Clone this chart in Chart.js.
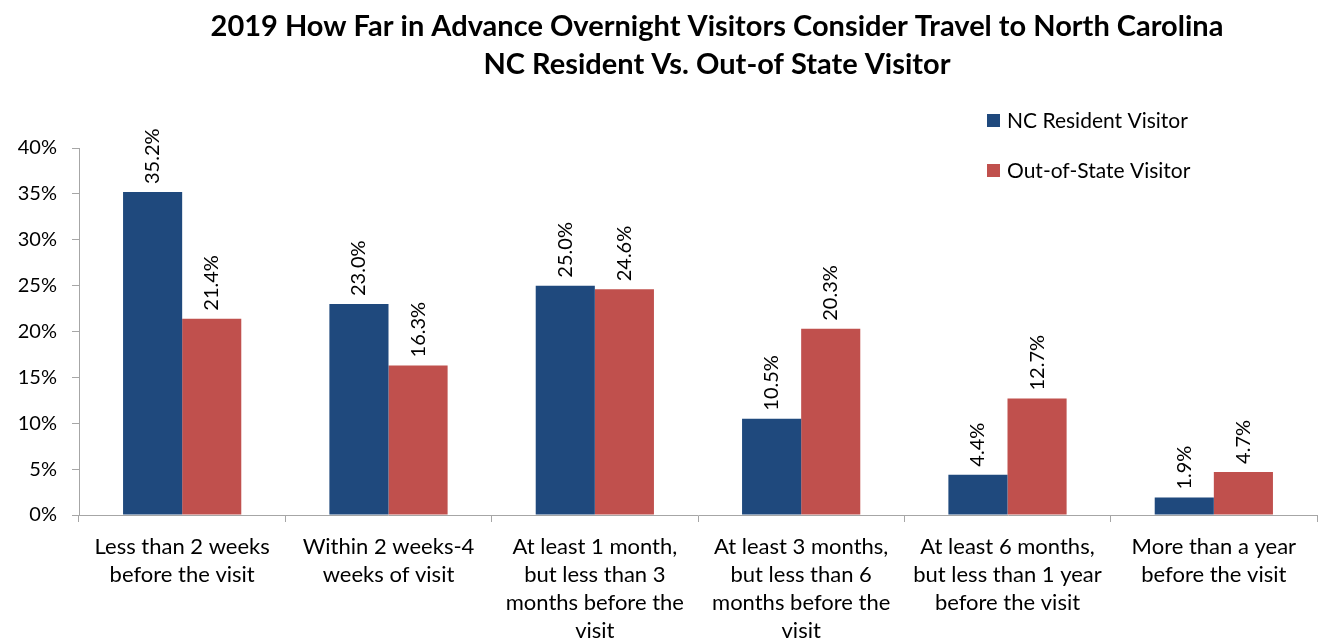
<!DOCTYPE html>
<html>
<head>
<meta charset="utf-8">
<script src="https://cdn.jsdelivr.net/npm/chart.js@4"></script>
<style>
html,body{margin:0;padding:0;background:#fff;}
#wrap{width:1325px;height:643px;position:relative;}
</style>
</head>
<body>
<div id="wrap"><canvas id="c" width="1325" height="643"></canvas></div>
<script>
const TITLE = ['2019 How Far in Advance Overnight Visitors Consider Travel to North Carolina', 'NC Resident Vs. Out-of State Visitor'];
const categories = [
  ['Less than 2 weeks', 'before the visit'],
  ['Within 2 weeks-4', 'weeks of visit'],
  ['At least 1 month,', 'but less than 3', 'months before the', 'visit'],
  ['At least 3 months,', 'but less than 6', 'months before the', 'visit'],
  ['At least 6 months,', 'but less than 1 year', 'before the visit'],
  ['More than a year', 'before the visit']
];
const seriesNames = ['NC Resident Visitor', 'Out-of-State Visitor'];
const ncResident = [35.2, 23.0, 25.0, 10.5, 4.4, 1.9];
const outOfState = [21.4, 16.3, 24.6, 20.3, 12.7, 4.7];
const yTicks = [0, 5, 10, 15, 20, 25, 30, 35, 40];
const colors = ['#1F497D', '#C0504D'];

const FONT = 'Lato, "Open Sans", sans-serif';

const titlePlugin = {
  id: 'customTitle',
  afterDraw(chart) {
    const ctx = chart.ctx;
    ctx.save();
    ctx.fillStyle = '#000';
    ctx.textAlign = 'center';
    ctx.textBaseline = 'middle';
    ctx.font = 'bold 29px ' + FONT;
    ctx.fillText(TITLE[0], 717, 27);
    ctx.fillText(TITLE[1], 717, 65);
    ctx.restore();
  }
};

const legendPlugin = {
  id: 'customLegend',
  afterDraw(chart) {
    const ctx = chart.ctx;
    ctx.save();
    ctx.font = '21px ' + FONT;
    ctx.textBaseline = 'middle';
    ctx.textAlign = 'left';
    chart.data.datasets.forEach((ds, i) => {
      const y = 120 + i * 50;
      ctx.fillStyle = ds.backgroundColor;
      ctx.fillRect(987, y - 6, 13, 13);
      ctx.fillStyle = '#000';
      ctx.fillText(ds.label, 1007, y + 1);
    });
    ctx.restore();
  }
};

const labelPlugin = {
  id: 'barLabels',
  afterDatasetsDraw(chart) {
    const ctx = chart.ctx;
    ctx.save();
    ctx.font = '20px ' + FONT;
    ctx.fillStyle = '#000';
    ctx.textAlign = 'left';
    ctx.textBaseline = 'middle';
    chart.data.datasets.forEach((ds, di) => {
      const meta = chart.getDatasetMeta(di);
      meta.data.forEach((bar, i) => {
        ctx.save();
        ctx.translate(bar.x, bar.y - 8);
        ctx.rotate(-Math.PI / 2);
        ctx.fillText(ds.data[i].toFixed(1) + '%', 0, 0);
        ctx.restore();
      });
    });
    ctx.restore();
  }
};

new Chart(document.getElementById('c'), {
  type: 'bar',
  data: {
    labels: categories,
    datasets: [
      { label: seriesNames[0], data: ncResident, backgroundColor: colors[0] },
      { label: seriesNames[1], data: outOfState, backgroundColor: colors[1] }
    ]
  },
  plugins: [titlePlugin, legendPlugin, labelPlugin],
  options: {
    responsive: false,
    animation: false,
    layout: { padding: { top: 148, right: 8, left: 0, bottom: 0 } },
    plugins: { legend: { display: false }, title: { display: false }, tooltip: { enabled: false } },
    datasets: { bar: { categoryPercentage: 0.573, barPercentage: 1.0 } },
    scales: {
      x: {
        grid: { offset: true, drawOnChartArea: false, drawTicks: true, tickLength: 7, color: '#a6a6a6' },
        border: { color: '#a6a6a6', width: 1 },
        ticks: { color: '#000', font: { family: FONT, size: 22, lineHeight: 1.27 }, padding: 11, maxRotation: 0, autoSkip: false },
        afterFit(scale) { scale.height = 128; }
      },
      y: {
        min: 0, max: 40,
        afterBuildTicks(scale) { scale.ticks = yTicks.map(v => ({ value: v })); },
        grid: { drawOnChartArea: false, drawTicks: true, tickLength: 7, color: '#a6a6a6' },
        border: { color: '#a6a6a6', width: 1 },
        ticks: { color: '#000', font: { family: FONT, size: 20 }, padding: 15, callback: v => v + '%' },
        afterFit(scale) { scale.width = 79; }
      }
    }
  }
});
</script>
</body>
</html>
